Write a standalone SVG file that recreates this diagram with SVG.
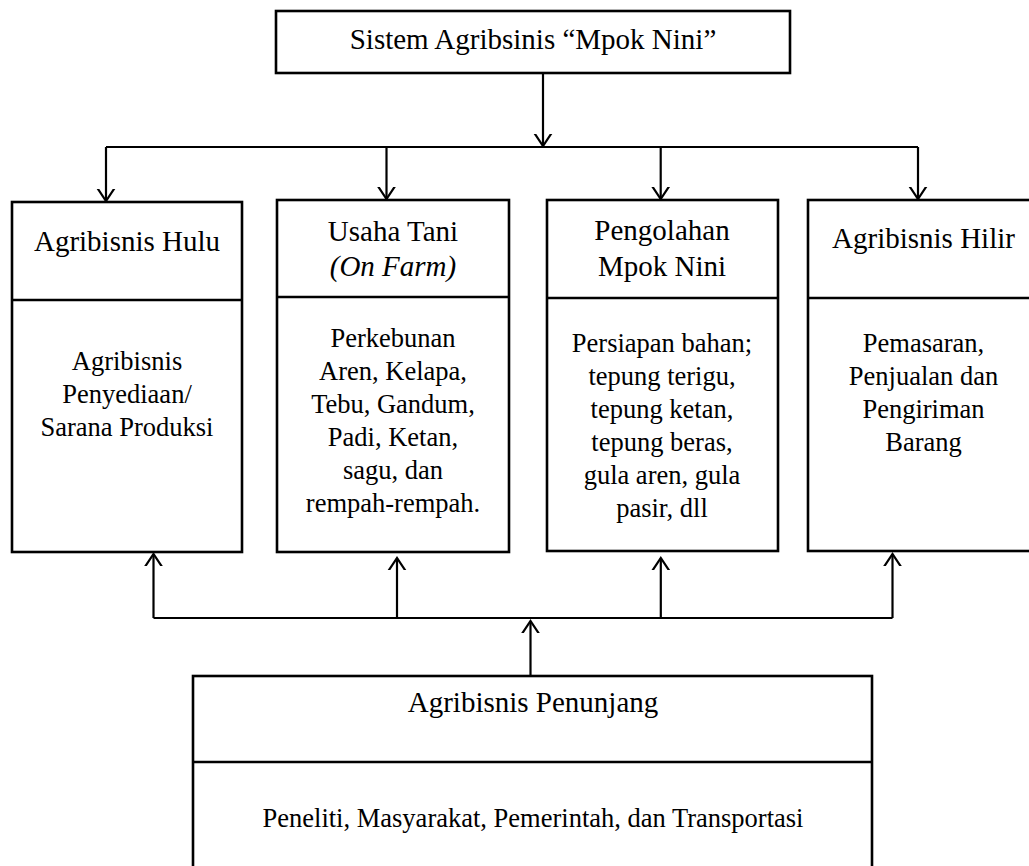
<svg xmlns="http://www.w3.org/2000/svg" width="1029" height="866" viewBox="0 0 1029 866">
<style>
.box{fill:#fff;stroke:#000;stroke-width:2.6}
.div{stroke:#000;stroke-width:2.6}
.con{fill:none;stroke:#000;stroke-width:2.2}
.h{font-family:"Liberation Serif","Times New Roman",serif;font-size:29px;fill:#000;text-anchor:middle}
.b{font-family:"Liberation Serif","Times New Roman",serif;font-size:26.5px;fill:#000;text-anchor:middle}
</style>
<defs>
<marker id="arr" viewBox="-12 -12 24 24" markerWidth="24" markerHeight="24" refX="0" refY="0" orient="auto" markerUnits="userSpaceOnUse">
<path d="M-15,-10 L0,0 L-15,10" fill="none" stroke="#000" stroke-width="2.2"/>
</marker>
</defs>
<rect width="1029" height="866" fill="#fff"/>
<g id="connectors">
<line class="con" x1="543" y1="73" x2="543" y2="146" marker-end="url(#arr)"/>
<line class="con" x1="106" y1="147" x2="918" y2="147"/>
<line class="con" x1="106" y1="147" x2="106" y2="201" marker-end="url(#arr)"/>
<line class="con" x1="386.5" y1="147" x2="386.5" y2="199" marker-end="url(#arr)"/>
<line class="con" x1="660.7" y1="147" x2="660.7" y2="199" marker-end="url(#arr)"/>
<line class="con" x1="918" y1="147" x2="918" y2="199" marker-end="url(#arr)"/>
<line class="con" x1="153.5" y1="618" x2="892.5" y2="618"/>
<line class="con" x1="153.5" y1="618" x2="153.5" y2="554" marker-end="url(#arr)"/>
<line class="con" x1="397" y1="618" x2="397" y2="558" marker-end="url(#arr)"/>
<line class="con" x1="660.8" y1="618" x2="660.8" y2="558" marker-end="url(#arr)"/>
<line class="con" x1="892.5" y1="618" x2="892.5" y2="554" marker-end="url(#arr)"/>
<line class="con" x1="530.5" y1="676" x2="530.5" y2="621" marker-end="url(#arr)"/>
</g>
<g id="node-sistem">
<rect class="box" x="276" y="11" width="514" height="62"/>
<text class="h" x="533" y="49">Sistem Agribsinis “Mpok Nini”</text>
</g>
<g id="node-hulu">
<rect class="box" x="12" y="202" width="230" height="350"/>
<line class="div" x1="12" y1="300" x2="242" y2="300"/>
<text class="h" x="127" y="251">Agribisnis Hulu</text>
<text class="b" x="127" y="370">Agribisnis</text>
<text class="b" x="127" y="403">Penyediaan/</text>
<text class="b" x="127" y="436">Sarana Produksi</text>
</g>
<g id="node-usahatani">
<rect class="box" x="277" y="200" width="232" height="352"/>
<line class="div" x1="277" y1="297" x2="509" y2="297"/>
<text class="h" x="393" y="241">Usaha Tani</text>
<text class="h" x="393" y="276" font-style="italic">(On Farm)</text>
<text class="b" x="393" y="347">Perkebunan</text>
<text class="b" x="393" y="380">Aren, Kelapa,</text>
<text class="b" x="393" y="413">Tebu, Gandum,</text>
<text class="b" x="393" y="446">Padi, Ketan,</text>
<text class="b" x="393" y="479">sagu, dan</text>
<text class="b" x="393" y="512">rempah-rempah.</text>
</g>
<g id="node-pengolahan">
<rect class="box" x="547" y="200" width="231" height="351"/>
<line class="div" x1="547" y1="298" x2="778" y2="298"/>
<text class="h" x="662" y="240">Pengolahan</text>
<text class="h" x="662" y="276">Mpok Nini</text>
<text class="b" x="662" y="352">Persiapan bahan;</text>
<text class="b" x="662" y="385">tepung terigu,</text>
<text class="b" x="662" y="418">tepung ketan,</text>
<text class="b" x="662" y="451">tepung beras,</text>
<text class="b" x="662" y="484">gula aren, gula</text>
<text class="b" x="662" y="517">pasir, dll</text>
</g>
<g id="node-hilir">
<rect class="box" x="808" y="200" width="232" height="351"/>
<line class="div" x1="808" y1="298" x2="1040" y2="298"/>
<text class="h" x="923.5" y="248">Agribisnis Hilir</text>
<text class="b" x="923.5" y="352">Pemasaran,</text>
<text class="b" x="923.5" y="385">Penjualan dan</text>
<text class="b" x="923.5" y="418">Pengiriman</text>
<text class="b" x="923.5" y="451">Barang</text>
</g>
<g id="node-penunjang">
<rect class="box" x="193" y="676" width="679" height="200"/>
<line class="div" x1="193" y1="762" x2="872" y2="762"/>
<text class="h" x="533" y="712">Agribisnis Penunjang</text>
<text class="b" x="533" y="827">Peneliti, Masyarakat, Pemerintah, dan Transportasi</text>
</g>
</svg>
